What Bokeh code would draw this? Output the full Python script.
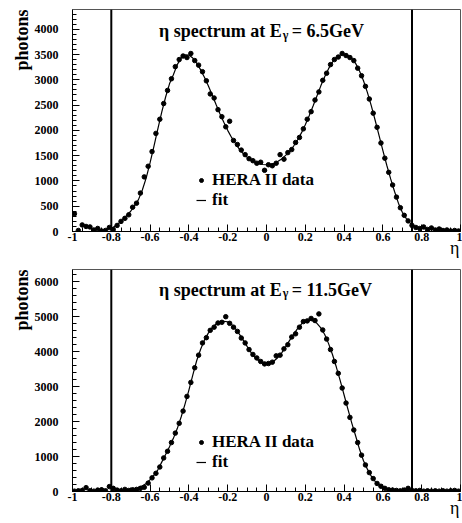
from bokeh.plotting import figure
from bokeh.models import Span, Label, FixedTicker, Legend, LegendItem, Range1d, LinearAxis, Title
from bokeh.layouts import column
from bokeh.embed import file_html
from bokeh.resources import INLINE

# ---------------- data ----------------
eta_bins = [-0.99, -0.97, -0.95, -0.93, -0.91, -0.89, -0.87, -0.85, -0.83, -0.81,
            -0.79, -0.77, -0.75, -0.73, -0.71, -0.69, -0.67, -0.65, -0.63, -0.61,
            -0.59, -0.57, -0.55, -0.53, -0.51, -0.49, -0.47, -0.45, -0.43, -0.41,
            -0.39, -0.37, -0.35, -0.33, -0.31, -0.29, -0.27, -0.25, -0.23, -0.21,
            -0.19, -0.17, -0.15, -0.13, -0.11, -0.09, -0.07, -0.05, -0.03, -0.01,
            0.01, 0.03, 0.05, 0.07, 0.09, 0.11, 0.13, 0.15, 0.17, 0.19,
            0.21, 0.23, 0.25, 0.27, 0.29, 0.31, 0.33, 0.35, 0.37, 0.39,
            0.41, 0.43, 0.45, 0.47, 0.49, 0.51, 0.53, 0.55, 0.57, 0.59,
            0.61, 0.63, 0.65, 0.67, 0.69, 0.71, 0.73, 0.75, 0.77, 0.79,
            0.81, 0.83, 0.85, 0.87, 0.89, 0.91, 0.93, 0.95, 0.97, 0.99]

photons_6_5 = [350, 20, 130, 100, 90, 30, 60, 10, 20, 80,
               40, 120, 200, 260, 330, 480, 560, 760, 1080, 1290,
               1580, 1940, 2220, 2530, 2790, 3020, 3260, 3400, 3470, 3440,
               3520, 3380, 3290, 3160, 2980, 2720, 2640, 2410, 2270, 2070,
               2180, 1800, 1720, 1610, 1520, 1440, 1400, 1350, 1370, 1210,
               1320, 1300, 1350, 1520, 1430, 1560, 1620, 1760, 1860, 2030,
               2220, 2370, 2600, 2760, 2990, 3130, 3300, 3400, 3450, 3520,
               3480, 3440, 3380, 3230, 3080, 2870, 2620, 2340, 2060, 1750,
               1450, 1170, 920, 680, 470, 320, 210, 120, 80, 60,
               90, 40, 70, 30, 50, 20, 30, 10, 20, 10]

photons_11_5 = [10, 20, 30, 110, 20, 10, 40, 50, 20, 140,
                90, 40, 20, 60, 30, 50, 60, 90, 120, 240,
                390, 520, 700, 960, 1150, 1400, 1670, 1950, 2300, 2720,
                3120, 3540, 3900, 4250, 4400, 4610, 4700, 4820, 4840, 5000,
                4810, 4700, 4580, 4390, 4250, 4060, 3920, 3820, 3720, 3650,
                3660, 3700, 3880, 3900, 4080, 4200, 4420, 4510, 4700, 4860,
                4880, 4950, 4890, 5080, 4620, 4360, 4060, 3720, 3380, 2960,
                2530, 2120, 1760, 1400, 1040, 760, 540, 370, 230, 150,
                90, 50, 40, 30, 20, 40, 90, 30, 20, 30,
                10, 20, 10, 20, 10, 20, 10, 20, 30, 10]

eta_fit = [-0.80, -0.78, -0.76, -0.74, -0.72, -0.70, -0.68, -0.66, -0.64, -0.62,
           -0.60, -0.58, -0.56, -0.54, -0.52, -0.50, -0.48, -0.46, -0.44, -0.42,
           -0.40, -0.38, -0.36, -0.34, -0.32, -0.30, -0.28, -0.26, -0.24, -0.22,
           -0.20, -0.18, -0.16, -0.14, -0.12, -0.10, -0.08, -0.06, -0.04, -0.02,
           0.00, 0.02, 0.04, 0.06, 0.08, 0.10, 0.12, 0.14, 0.16, 0.18,
           0.20, 0.22, 0.24, 0.26, 0.28, 0.30, 0.32, 0.34, 0.36, 0.38,
           0.40, 0.42, 0.44, 0.46, 0.48, 0.50, 0.52, 0.54, 0.56, 0.58,
           0.60, 0.62, 0.64, 0.66, 0.68, 0.70, 0.72, 0.74, 0.76]

fit_6_5 = [60, 110, 170, 240, 320, 400, 510, 630, 820, 1060,
           1360, 1690, 2030, 2360, 2660, 2920, 3100, 3300, 3430, 3495,
           3490, 3430, 3330, 3200, 3050, 2880, 2700, 2510, 2330, 2160,
           2000, 1860, 1740, 1630, 1540, 1470, 1410, 1370, 1340, 1325,
           1320, 1330, 1350, 1390, 1440, 1510, 1590, 1690, 1810, 1950,
           2110, 2290, 2480, 2680, 2880, 3060, 3220, 3350, 3440, 3490,
           3500, 3480, 3420, 3320, 3170, 2980, 2750, 2490, 2200, 1900,
           1600, 1310, 1040, 790, 560, 380, 260, 170, 110]

fit_11_5 = [20, 20, 20, 25, 35, 50, 70, 110, 160, 230,
            340, 470, 620, 840, 1060, 1280, 1520, 1800, 2130, 2500,
            2900, 3330, 3740, 4060, 4330, 4530, 4680, 4790, 4850, 4870,
            4850, 4780, 4660, 4500, 4330, 4150, 3980, 3840, 3740, 3680,
            3660, 3680, 3740, 3840, 3980, 4150, 4330, 4500, 4660, 4790,
            4870, 4900, 4880, 4810, 4680, 4490, 4230, 3920, 3560, 3170,
            2760, 2350, 1950, 1580, 1200, 880, 640, 440, 290, 190,
            120, 70, 45, 30, 25, 20, 20, 20, 20]

eta_cuts = [-0.8, 0.75]
x_ticks = [-1.0, -0.8, -0.6, -0.4, -0.2, 0.0, 0.2, 0.4, 0.6, 0.8, 1.0]
x_tick_labels = ["-1", "-0.8", "-0.6", "-0.4", "-0.2", "0", "0.2", "0.4", "0.6", "0.8", "1"]
y_ticks_top = [0, 500, 1000, 1500, 2000, 2500, 3000, 3500, 4000]
y_ticks_bottom = [0, 1000, 2000, 3000, 4000, 5000, 6000]
energies = ["6.5GeV", "11.5GeV"]
x_title = "\u03b7"
y_title = "photons"
legend_labels = ["HERA II data", "fit"]

SERIF = "Liberation Serif"


def make_panel(data, fit, ymax, yticks, yminor_step, energy, height, b_top, b_bottom,
               title_y, sub_y, legend_y):
    p = figure(width=462, height=height, x_range=Range1d(-1, 1), y_range=Range1d(0, ymax),
               output_backend="svg", toolbar_location=None,
               min_border_left=72, min_border_right=2, min_border_top=b_top,
               min_border_bottom=b_bottom)
    p.xgrid.visible = False
    p.ygrid.visible = False
    p.outline_line_color = "#555555"
    p.outline_line_width = 1
    p.background_fill_color = "white"
    p.border_fill_color = "white"

    xminor = [round(-1 + 0.05 * i, 2) for i in range(41)]
    p.xaxis.ticker = FixedTicker(ticks=x_ticks, minor_ticks=xminor)
    p.xaxis.major_label_overrides = {t: s for t, s in zip(x_ticks, x_tick_labels)}
    yminor = [yminor_step * i for i in range(int(ymax // yminor_step) + 1)]
    p.yaxis.ticker = FixedTicker(ticks=yticks, minor_ticks=yminor)

    for ax in (p.xaxis[0], p.yaxis[0]):
        ax.major_tick_in = 7
        ax.major_tick_out = 0
        ax.minor_tick_in = 4
        ax.minor_tick_out = 0
        ax.axis_line_color = "black"
        ax.major_tick_line_color = "black"
        ax.minor_tick_line_color = "black"
        ax.major_label_text_font = SERIF
        ax.major_label_text_font_style = "bold"
        ax.major_label_text_font_size = "12px"
        ax.major_label_text_color = "black"
    p.xaxis.major_label_standoff = 1
    p.yaxis.major_label_standoff = 14

    # eta axis title at the right end, below the tick labels
    eta_ax = LinearAxis(ticker=FixedTicker(ticks=[0.97], minor_ticks=[]),
                        major_label_overrides={0.97: x_title},
                        axis_line_alpha=0, major_tick_line_alpha=0, minor_tick_line_alpha=0,
                        major_tick_in=0, major_tick_out=0, minor_tick_in=0, minor_tick_out=0,
                        major_label_standoff=-6, major_label_text_font=SERIF,
                        major_label_text_font_size="18px", major_label_text_color="black")
    p.add_layout(eta_ax, "below")

    # photons title at the top of the left side
    p.add_layout(Title(text=y_title, align="right", text_font=SERIF, text_font_style="bold",
                       text_font_size="18px", text_color="black", standoff=0), "left")

    for c in eta_cuts:
        p.add_layout(Span(location=c, dimension="height", line_color="black", line_width=2))

    r_pts = p.scatter(eta_bins, data, size=4.5, color="black")
    r_fit = p.line(eta_fit, fit, line_color="black", line_width=1.2)

    legend = Legend(items=[LegendItem(label=legend_labels[0], renderers=[r_pts]),
                           LegendItem(label=legend_labels[1], renderers=[r_fit])],
                    location=(124, legend_y))
    legend.label_text_font = SERIF
    legend.label_text_font_style = "bold"
    legend.label_text_font_size = "17px"
    legend.label_text_color = "black"
    legend.border_line_alpha = 0
    legend.background_fill_alpha = 0
    legend.padding = 0
    legend.margin = 0
    legend.spacing = 0
    legend.glyph_width = 10
    legend.glyph_height = 20
    legend.label_height = 20
    legend.label_standoff = 6
    p.add_layout(legend)

    common = dict(text_font=SERIF, text_font_style="bold", text_color="black")
    p.add_layout(Label(x=0.078, y=title_y, text="\u03b7 spectrum at E", text_align="right",
                       text_baseline="alphabetic", text_font_size="18px", **common))
    p.add_layout(Label(x=0.084, y=sub_y, text="\u03b3", text_align="left",
                       text_baseline="alphabetic", text_font_size="12px", **common))
    p.add_layout(Label(x=0.130, y=title_y, text="= " + energy, text_align="left",
                       text_baseline="alphabetic", text_font_size="18px", **common))
    return p


p1 = make_panel(photons_6_5, fit_6_5, 4390, y_ticks_top, 100, energies[0], 260, 9, 29,
                3974, 3890, 21)
p2 = make_panel(photons_11_5, fit_11_5, 6350, y_ticks_bottom, 200, energies[1], 263, 9, 32,
                5776, 5680, 19)

layout = column(p1, p2)
open("out.html", "w").write(file_html(layout, INLINE))
